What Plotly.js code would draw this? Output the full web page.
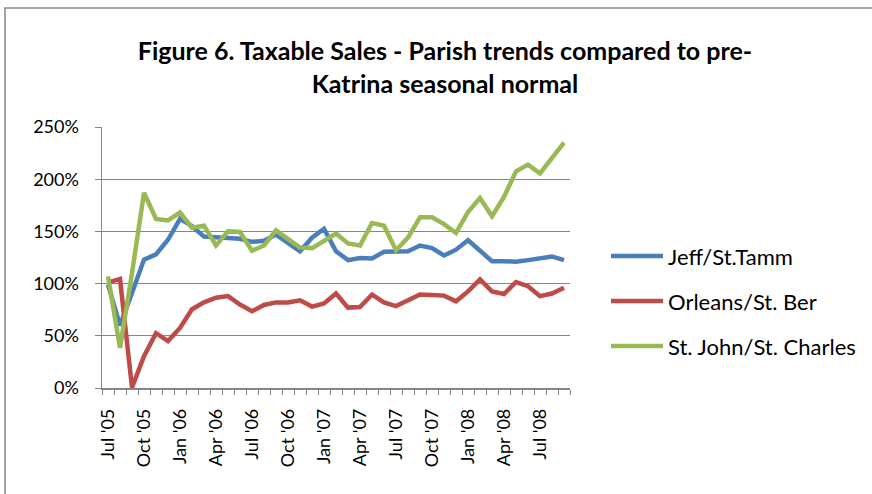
<!DOCTYPE html>
<html>
<head>
<meta charset="utf-8">
<script src="https://cdn.plot.ly/plotly-3.0.1.min.js"></script>
<style>
  html, body { margin: 0; padding: 0; background: #fff; }
  #chart { width: 872px; height: 494px; }
</style>
</head>
<body>
<div id="chart"></div>
<script>
const months = [
  "Jul '05","Aug '05","Sep '05","Oct '05","Nov '05","Dec '05",
  "Jan '06","Feb '06","Mar '06","Apr '06","May '06","Jun '06",
  "Jul '06","Aug '06","Sep '06","Oct '06","Nov '06","Dec '06",
  "Jan '07","Feb '07","Mar '07","Apr '07","May '07","Jun '07",
  "Jul '07","Aug '07","Sep '07","Oct '07","Nov '07","Dec '07",
  "Jan '08","Feb '08","Mar '08","Apr '08","May '08","Jun '08",
  "Jul '08","Aug '08","Sep '08"
];

const jeff = [
  99, 60, 91, 123, 128, 142,
  162, 155, 145, 144, 144, 143,
  140, 141, 147, 139, 131, 144,
  152.5, 131, 122.5, 124.5, 124, 130.5,
  131, 131, 136.5, 134, 127, 132.5,
  141.5, 131.5, 121.5, 121.5, 121, 122.5,
  124.5, 126, 122.5
];

const orleans = [
  101, 104.5, 0.5, 30.5, 52.5, 45,
  57.5, 75.5, 82, 86.5, 88, 80,
  73.5, 79.5, 82, 82, 84, 78,
  81, 90.5, 77, 77.5, 89.5, 82,
  78.5, 84, 89.5, 89, 88.5, 83,
  92.5, 104, 92.5, 90, 101.5, 97.5,
  88, 90.5, 96
];

const stjohn = [
  107, 38.5, 110, 187, 162, 160.5,
  168, 153.5, 155.5, 136.5, 150, 149.5,
  131.5, 136.5, 151, 143, 134.5, 134,
  140.5, 148, 138.5, 136.5, 158, 155.5,
  132, 144, 163.5, 163.5, 157, 148.5,
  168.5, 182, 164.5, 183, 207.5, 214,
  205.5, 220.5, 235
];

const seriesNames = ["Jeff/St.Tamm", "Orleans/St. Ber", "St. John/St. Charles"];
const seriesColors = ["#4A7EBB", "#BE4B48", "#98B954"];
const seriesValues = [jeff, orleans, stjohn];

const tickText = months.map((m, i) => (i % 3 === 0 ? m : ""));

const traces = seriesValues.map((vals, k) => ({
  type: "scatter",
  mode: "lines",
  x: months,
  y: vals,
  name: seriesNames[k],
  line: { color: seriesColors[k], width: 4.5, shape: "linear" },
  hoverinfo: "x+y+name",
  showlegend: false
}));

const FONT = "Lato, 'Liberation Sans', sans-serif";
const GRID = "#868686";

// plot area in pixels: x 102..570, y 127..388
const PL = 102, PW = 468, PB = 388, PH = 261;
const px2x = p => (p - PL) / PW;
const px2y = p => (PB - p) / PH;

// legend drawn as shapes + annotations from the series arrays
const legendRows = [256, 301, 346];
const legendShapes = seriesNames.map((n, k) => ({
  type: "line", xref: "paper", yref: "paper",
  x0: px2x(611), x1: px2x(663), y0: px2y(legendRows[k]), y1: px2y(legendRows[k]),
  line: { color: seriesColors[k], width: 4.5 }
}));
const legendLabels = seriesNames.map((n, k) => ({
  text: n, xref: "paper", yref: "paper",
  x: px2x(666), y: px2y(legendRows[k]),
  xanchor: "left", yanchor: "middle", showarrow: false,
  font: { family: FONT, size: 22, color: "#000" }
}));

const layout = {
  width: 872,
  height: 494,
  margin: { l: PL, r: 872 - PL - PW, t: PB - PH, b: 494 - PB },
  paper_bgcolor: "#ffffff",
  plot_bgcolor: "#ffffff",
  font: { family: FONT, color: "#000000", size: 18 },
  title: {
    text: "<b>Figure 6. Taxable Sales - Parish trends compared to pre-<br>Katrina seasonal normal</b>",
    font: { family: FONT, size: 25, color: "#000000" },
    x: 445 / 872,
    xref: "container",
    xanchor: "center",
    y: 1 - 60 / 494,
    yref: "container",
    yanchor: "top"
  },
  xaxis: {
    type: "category",
    tickmode: "array",
    tickvals: months,
    ticktext: tickText,
    tickson: "boundaries",
    ticks: "outside",
    ticklen: 5,
    tickcolor: GRID,
    tickwidth: 1,
    tickangle: -90,
    ticklabelstandoff: 12,
    tickfont: { family: FONT, size: 18, color: "#000" },
    showline: true,
    linecolor: GRID,
    linewidth: 1.5,
    showgrid: false,
    zeroline: false,
    range: [-0.5, months.length - 0.5],
    fixedrange: true
  },
  yaxis: {
    range: [0, 250],
    tickmode: "linear",
    tick0: 0,
    dtick: 50,
    ticksuffix: "%",
    ticks: "outside",
    ticklen: 6,
    tickcolor: GRID,
    ticklabelstandoff: 12,
    tickfont: { family: FONT, size: 18, color: "#000" },
    showline: true,
    linecolor: GRID,
    linewidth: 1.5,
    showgrid: true,
    gridcolor: GRID,
    gridwidth: 1,
    zeroline: false,
    fixedrange: true
  },
  showlegend: false,
  annotations: legendLabels,
  shapes: [
    {
      type: "rect",
      xref: "paper", yref: "paper",
      x0: px2x(5), x1: 2.5,
      y0: -1, y1: px2y(8),
      line: { color: "#868686", width: 1.5 },
      fillcolor: "rgba(0,0,0,0)",
      layer: "below"
    }
  ].concat(legendShapes)
};

Plotly.newPlot("chart", traces, layout, { displayModeBar: false, staticPlot: true });
</script>
</body>
</html>
